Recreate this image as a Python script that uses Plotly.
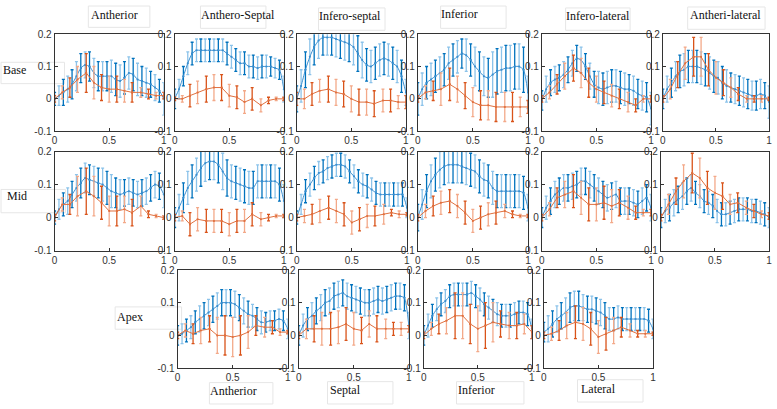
import plotly.graph_objects as go

W, H = 777, 409

BLUE_X = [0, 0.04, 0.08, 0.12, 0.16, 0.2, 0.24, 0.28, 0.32, 0.36, 0.4, 0.44, 0.48,
          0.52, 0.56, 0.6, 0.64, 0.68, 0.72, 0.76, 0.8, 0.84, 0.88, 0.92, 0.96, 1.0]
ORANGE_X = [0, 0.07, 0.14, 0.21, 0.29, 0.36, 0.43, 0.5, 0.57, 0.64, 0.71, 0.79, 0.86, 0.93, 1.0]

PANEL_NAMES = ["Base Antherior", "Base Anthero-Septal", "Base Infero-septal", "Base Inferior",
               "Base Infero-lateral", "Base Antheri-lateral",
               "Mid Antherior", "Mid Anthero-Septal", "Mid Infero-septal", "Mid Inferior",
               "Mid Infero-lateral", "Mid Antheri-lateral",
               "Apex Antherior", "Apex Septal", "Apex Inferior", "Apex Lateral"]

BLUE_Y = [
    [0.0,0.01,0.02,0.03,0.045,0.07,0.095,0.105,0.10,0.08,0.07,0.07,0.07,0.07,0.06,0.055,0.065,0.08,0.075,0.06,0.055,0.05,0.045,0.035,0.025,0.0],
    [0.0,0.03,0.07,0.11,0.14,0.15,0.15,0.15,0.15,0.15,0.15,0.15,0.14,0.13,0.12,0.11,0.11,0.10,0.10,0.095,0.10,0.10,0.10,0.095,0.09,0.03],
    [0.0,0.04,0.09,0.13,0.16,0.18,0.19,0.19,0.19,0.185,0.18,0.175,0.17,0.16,0.14,0.12,0.105,0.10,0.11,0.12,0.125,0.12,0.11,0.10,0.07,0.02],
    [0.0,0.03,0.05,0.06,0.07,0.08,0.09,0.11,0.12,0.13,0.14,0.135,0.12,0.10,0.085,0.07,0.065,0.075,0.085,0.09,0.095,0.095,0.10,0.10,0.09,0.02],
    [-0.005,0.03,0.05,0.06,0.065,0.075,0.09,0.11,0.125,0.12,0.10,0.07,0.045,0.035,0.03,0.035,0.04,0.04,0.035,0.03,0.03,0.025,0.015,0.01,0.005,-0.03],
    [0.0,0.03,0.05,0.07,0.085,0.09,0.10,0.10,0.10,0.095,0.09,0.08,0.07,0.065,0.05,0.04,0.035,0.03,0.025,0.02,0.015,0.01,0.01,0.015,0.01,-0.01],
    [0.0,0.025,0.04,0.05,0.07,0.09,0.105,0.12,0.115,0.11,0.105,0.10,0.09,0.08,0.075,0.07,0.075,0.08,0.075,0.07,0.075,0.08,0.09,0.10,0.095,0.07],
    [0.0,0.03,0.06,0.09,0.11,0.13,0.15,0.165,0.17,0.17,0.16,0.14,0.12,0.11,0.105,0.10,0.095,0.09,0.09,0.11,0.11,0.11,0.11,0.11,0.10,0.05],
    [0.0,0.04,0.08,0.10,0.12,0.135,0.14,0.15,0.155,0.16,0.16,0.155,0.14,0.125,0.11,0.10,0.095,0.085,0.075,0.07,0.07,0.07,0.07,0.07,0.07,0.03],
    [0.0,0.04,0.08,0.11,0.13,0.145,0.155,0.16,0.16,0.16,0.155,0.15,0.145,0.14,0.125,0.115,0.11,0.09,0.08,0.08,0.08,0.08,0.08,0.08,0.075,0.03],
    [0.0,0.03,0.05,0.07,0.08,0.09,0.09,0.095,0.10,0.11,0.11,0.10,0.09,0.08,0.07,0.06,0.065,0.07,0.05,0.05,0.05,0.045,0.04,0.05,0.06,0.03],
    [0.0,0.02,0.03,0.045,0.055,0.065,0.08,0.09,0.075,0.065,0.05,0.045,0.035,0.02,0.01,0.01,0.015,0.02,0.025,0.025,0.025,0.02,0.02,0.015,0.01,0.0],
    [0.0,0.005,0.015,0.025,0.04,0.05,0.06,0.07,0.08,0.09,0.10,0.10,0.10,0.095,0.085,0.075,0.065,0.06,0.05,0.04,0.04,0.045,0.045,0.05,0.045,0.02],
    [0.0,0.03,0.05,0.06,0.075,0.085,0.10,0.105,0.12,0.125,0.13,0.12,0.115,0.11,0.105,0.10,0.10,0.105,0.11,0.105,0.11,0.115,0.12,0.12,0.115,0.03],
    [0.0,0.03,0.06,0.08,0.095,0.105,0.12,0.125,0.125,0.125,0.125,0.13,0.12,0.11,0.095,0.085,0.075,0.065,0.06,0.06,0.06,0.065,0.07,0.07,0.065,0.02],
    [0.01,0.02,0.035,0.05,0.06,0.07,0.085,0.09,0.09,0.085,0.08,0.08,0.075,0.07,0.06,0.05,0.05,0.055,0.05,0.05,0.05,0.05,0.05,0.05,0.045,0.02],
]

BLUE_ERR = [
    [0.02,0.03,0.04,0.04,0.045,0.045,0.045,0.04,0.045,0.045,0.045,0.045,0.045,0.05,0.05,0.05,0.05,0.05,0.05,0.05,0.045,0.045,0.04,0.04,0.035,0.05],
    [0.03,0.03,0.03,0.035,0.035,0.035,0.035,0.035,0.035,0.035,0.035,0.035,0.035,0.035,0.035,0.035,0.035,0.035,0.035,0.035,0.035,0.035,0.03,0.03,0.03,0.04],
    [0.04,0.05,0.055,0.055,0.055,0.055,0.055,0.055,0.055,0.055,0.055,0.055,0.055,0.055,0.055,0.055,0.05,0.05,0.05,0.05,0.05,0.05,0.05,0.05,0.05,0.04],
    [0.05,0.05,0.05,0.05,0.05,0.05,0.05,0.05,0.05,0.05,0.045,0.05,0.05,0.06,0.06,0.06,0.06,0.07,0.07,0.07,0.07,0.07,0.07,0.07,0.07,0.05],
    [0.03,0.04,0.04,0.04,0.04,0.04,0.04,0.04,0.04,0.04,0.04,0.04,0.04,0.05,0.05,0.05,0.05,0.05,0.05,0.05,0.045,0.045,0.045,0.045,0.045,0.05],
    [0.03,0.04,0.045,0.045,0.05,0.05,0.05,0.05,0.05,0.05,0.05,0.05,0.05,0.05,0.05,0.05,0.045,0.045,0.045,0.045,0.045,0.045,0.045,0.045,0.04,0.05],
    [0.02,0.03,0.035,0.04,0.04,0.04,0.045,0.045,0.045,0.045,0.045,0.05,0.05,0.05,0.045,0.045,0.04,0.04,0.04,0.04,0.04,0.04,0.04,0.04,0.04,0.04],
    [0.03,0.04,0.045,0.05,0.05,0.05,0.055,0.055,0.055,0.055,0.055,0.055,0.055,0.05,0.05,0.05,0.05,0.05,0.05,0.05,0.05,0.05,0.05,0.05,0.05,0.05],
    [0.02,0.03,0.035,0.035,0.035,0.035,0.035,0.035,0.035,0.035,0.035,0.035,0.035,0.035,0.035,0.035,0.035,0.035,0.035,0.035,0.035,0.035,0.035,0.035,0.035,0.03],
    [0.04,0.045,0.05,0.05,0.05,0.055,0.055,0.055,0.055,0.055,0.05,0.05,0.05,0.05,0.05,0.05,0.05,0.05,0.05,0.05,0.05,0.05,0.05,0.05,0.05,0.04],
    [0.03,0.035,0.04,0.04,0.04,0.04,0.04,0.04,0.04,0.04,0.04,0.04,0.04,0.04,0.04,0.04,0.04,0.04,0.04,0.04,0.04,0.04,0.04,0.04,0.04,0.04],
    [0.03,0.035,0.04,0.04,0.04,0.04,0.04,0.04,0.035,0.035,0.035,0.035,0.035,0.035,0.035,0.035,0.035,0.035,0.035,0.035,0.035,0.035,0.035,0.035,0.035,0.03],
    [0.03,0.03,0.035,0.035,0.035,0.04,0.04,0.04,0.04,0.04,0.04,0.04,0.04,0.04,0.04,0.04,0.04,0.035,0.035,0.035,0.03,0.03,0.03,0.03,0.03,0.03],
    [0.03,0.035,0.035,0.04,0.04,0.04,0.04,0.04,0.04,0.04,0.04,0.04,0.04,0.04,0.04,0.04,0.04,0.04,0.04,0.04,0.04,0.04,0.04,0.04,0.04,0.04],
    [0.03,0.035,0.035,0.035,0.035,0.035,0.035,0.035,0.035,0.035,0.035,0.035,0.035,0.035,0.035,0.035,0.035,0.035,0.035,0.035,0.035,0.035,0.035,0.035,0.035,0.03],
    [0.03,0.04,0.04,0.04,0.04,0.045,0.045,0.045,0.045,0.04,0.04,0.04,0.04,0.04,0.04,0.035,0.035,0.035,0.035,0.035,0.035,0.035,0.035,0.035,0.035,0.03],
]

ORANGE_Y = [
    [0.0,0.02,0.035,0.06,0.08,0.05,0.035,0.03,0.03,0.025,0.02,0.02,0.015,0.01,0.01],
    [0.0,0.0,0.01,0.02,0.03,0.035,0.035,0.01,0.005,-0.01,0.0,-0.02,-0.005,0.0,0.0],
    [0.0,0.0,0.015,0.025,0.03,0.02,0.015,0.0,-0.01,-0.01,-0.015,-0.005,-0.005,-0.01,-0.01],
    [0.0,0.02,0.025,0.03,0.045,0.03,0.01,-0.01,-0.02,-0.02,-0.025,-0.025,-0.025,-0.025,-0.025],
    [0.0,0.02,0.045,0.07,0.095,0.08,0.05,0.03,0.02,0.01,0.0,-0.01,-0.02,0.0,0.0],
    [0.0,0.03,0.075,0.11,0.13,0.13,0.09,0.065,0.05,0.035,0.015,0.0,0.0,0.0,0.0],
    [0.0,0.04,0.04,0.065,0.08,0.065,0.045,0.02,0.02,0.025,0.015,0.035,0.01,0.005,0.0],
    [0.0,0.005,-0.02,-0.005,-0.01,-0.01,-0.01,-0.02,-0.01,-0.01,0.01,-0.005,0.0,0.005,0.005],
    [0.0,0.005,0.01,0.02,0.03,0.02,0.01,-0.015,-0.005,0.005,0.005,0.01,0.015,0.01,0.01],
    [0.0,0.02,0.035,0.045,0.05,0.035,0.015,-0.01,0.0,0.01,0.015,0.02,0.01,0.005,0.005],
    [0.0,0.025,0.06,0.07,0.08,0.06,0.04,0.04,0.045,0.035,0.045,0.03,0.015,0.015,0.015],
    [0.0,0.04,0.08,0.11,0.135,0.12,0.09,0.075,0.065,0.04,0.045,0.03,0.02,0.01,0.005],
    [0.0,0.015,0.005,0.015,0.02,0.0,0.0,-0.005,0.0,0.01,0.03,0.025,0.025,0.01,0.01],
    [0.0,0.02,0.02,0.02,0.02,0.025,0.035,0.02,0.015,0.035,0.02,0.02,0.02,0.02,0.02],
    [0.0,0.02,0.035,0.045,0.06,0.06,0.035,0.02,0.03,0.04,0.035,0.03,0.03,0.035,0.01],
    [0.0,0.005,0.015,0.03,0.04,0.035,0.02,-0.005,0.005,0.015,0.025,0.015,0.005,0.005,0.005],
]

ORANGE_ERR = [
    [0.01,0.02,0.03,0.04,0.06,0.05,0.04,0.04,0.04,0.035,0.03,0.015,0.015,0.01,0.01],
    [0.005,0.01,0.035,0.035,0.04,0.04,0.04,0.035,0.035,0.035,0.035,0.02,0.01,0.005,0.005],
    [0.02,0.03,0.035,0.035,0.04,0.04,0.04,0.04,0.04,0.04,0.04,0.035,0.035,0.02,0.02],
    [0.01,0.02,0.03,0.05,0.05,0.04,0.04,0.045,0.045,0.045,0.045,0.045,0.045,0.03,0.02],
    [0.01,0.02,0.03,0.04,0.04,0.045,0.045,0.04,0.035,0.035,0.03,0.03,0.02,0.01,0.01],
    [0.01,0.03,0.04,0.05,0.06,0.06,0.05,0.05,0.04,0.03,0.02,0.01,0.01,0.01,0.005],
    [0.01,0.02,0.03,0.06,0.07,0.06,0.05,0.045,0.045,0.04,0.04,0.03,0.01,0.005,0.005],
    [0.01,0.015,0.035,0.035,0.035,0.035,0.035,0.035,0.035,0.035,0.035,0.02,0.01,0.005,0.005],
    [0.01,0.02,0.03,0.035,0.035,0.035,0.035,0.035,0.035,0.035,0.03,0.03,0.01,0.01,0.005],
    [0.01,0.02,0.03,0.035,0.035,0.035,0.035,0.035,0.035,0.035,0.035,0.02,0.01,0.005,0.005],
    [0.01,0.02,0.03,0.04,0.05,0.05,0.05,0.05,0.05,0.05,0.04,0.035,0.02,0.01,0.01],
    [0.01,0.03,0.04,0.05,0.06,0.06,0.05,0.05,0.04,0.03,0.03,0.02,0.02,0.01,0.01],
    [0.01,0.02,0.03,0.04,0.04,0.055,0.06,0.06,0.06,0.05,0.03,0.03,0.02,0.01,0.005],
    [0.01,0.03,0.04,0.05,0.05,0.05,0.05,0.05,0.04,0.04,0.04,0.03,0.02,0.02,0.01],
    [0.01,0.02,0.03,0.04,0.07,0.07,0.06,0.07,0.07,0.06,0.04,0.04,0.04,0.03,0.02],
    [0.01,0.02,0.03,0.04,0.05,0.05,0.05,0.05,0.05,0.04,0.03,0.02,0.01,0.01,0.005],
]

COL_TITLES = ["Antherior", "Anthero-Septal", "Infero-septal", "Inferior", "Infero-lateral", "Antheri-lateral"]
ROW_TITLES = ["Base", "Mid", "Apex"]
APEX_TITLES = ["Antherior", "Septal", "Inferior", "Lateral"]

Y_TICKS = [-0.1, 0, 0.1, 0.2]
Y_TICKTEXT = ["-0.1", "0", "0.1", "0.2"]
X_TICKS = [0, 0.5, 1]
X_TICKTEXT = ["0", "0.5", "1"]

# panel boxes in pixels: (left, right, top, bottom)
PANEL_PX = [
    (52, 162, 29, 129), (173, 283, 29, 129), (296, 406, 29, 129),
    (418, 529, 29, 129), (543, 653, 29, 129), (665, 772, 29, 129),
    (52, 162, 150, 252), (173, 283, 150, 252), (296, 407, 150, 252),
    (418, 529, 150, 252), (543, 653, 150, 252), (663, 772, 150, 252),
    (176, 287, 272, 373), (298, 409, 272, 373), (424, 533, 272, 373),
    (545, 655, 272, 373),
]

BLUE_D, BLUE_L, BLUE_LINE = "#0072BD", "#8cc3ea", "#3b8fd0"
ORG_D, ORG_L, ORG_LINE = "#D95319", "#f3a989", "#e0703f"

fig = go.Figure()
layout = {}


def err_trace(xs, ys, es, color, ax):
    return go.Scatter(x=xs, y=ys, mode="markers",
                      marker=dict(size=2, color=color),
                      error_y=dict(type="data", array=es, visible=True,
                                   color=color, thickness=1.3, width=1.5),
                      xaxis="x" + ax, yaxis="y" + ax,
                      showlegend=False, hoverinfo="skip")


for i in range(16):
    ax = "" if i == 0 else str(i + 1)
    l, r, t, b = PANEL_PX[i]
    bx, by, be = BLUE_X, BLUE_Y[i], BLUE_ERR[i]
    ox, oy, oe = ORANGE_X, ORANGE_Y[i], ORANGE_ERR[i]
    # blue: alternating dark / light error bars
    fig.add_trace(err_trace(bx[1::2], by[1::2], be[1::2], BLUE_L, ax))
    fig.add_trace(err_trace(bx[0::2], by[0::2], be[0::2], BLUE_D, ax))
    fig.add_trace(go.Scatter(x=bx, y=by, mode="lines+markers",
                             line=dict(color=BLUE_LINE, width=1, shape="spline", smoothing=0.6),
                             marker=dict(size=2, color=BLUE_LINE),
                             xaxis="x" + ax, yaxis="y" + ax, showlegend=False))
    # orange
    fig.add_trace(err_trace(ox[1::2], oy[1::2], oe[1::2], ORG_L, ax))
    fig.add_trace(err_trace(ox[0::2], oy[0::2], oe[0::2], ORG_D, ax))
    fig.add_trace(go.Scatter(x=ox, y=oy, mode="lines+markers",
                             line=dict(color=ORG_LINE, width=1),
                             marker=dict(size=2, color=ORG_LINE),
                             xaxis="x" + ax, yaxis="y" + ax, showlegend=False))
    common = dict(showline=True, mirror=True, linecolor="#333333", linewidth=1,
                  ticks="inside", ticklen=3, tickcolor="#333333",
                  showgrid=False, zeroline=False, fixedrange=True,
                  ticklabeloverflow="allow",
                  tickfont=dict(family="Liberation Sans, Arial, sans-serif", size=10, color="#333333"))
    layout["xaxis" + ax] = dict(domain=[l / W, r / W], range=[0, 1],
                                tickvals=X_TICKS, ticktext=X_TICKTEXT,
                                anchor="y" + ax, **common)
    layout["yaxis" + ax] = dict(domain=[1 - b / H, 1 - t / H], range=[-0.1, 0.2],
                                tickvals=Y_TICKS, ticktext=Y_TICKTEXT,
                                anchor="x" + ax, **common)

SERIF = "Liberation Serif, DejaVu Serif, serif"
annotations = []
shapes = []


def label(text, cx, cy, box):
    annotations.append(dict(text=text, x=cx / W, y=1 - cy / H, xref="paper", yref="paper",
                            showarrow=False, xanchor="center", yanchor="middle",
                            font=dict(family=SERIF, size=12, color="#111111")))
    x0, x1, y0, y1 = box
    shapes.append(dict(type="rect", xref="paper", yref="paper",
                       x0=x0 / W, x1=x1 / W, y0=1 - y1 / H, y1=1 - y0 / H,
                       line=dict(color="#e6e6e6", width=1), layer="below"))


col_pos = [(112, 9, (86, 148, 0, 22)), (237, 9, (199, 265, 0, 23)),
           (350, 10, (318, 385, 2, 25)), (460, 8, (441, 507, 0, 23)),
           (600, 10, (567, 632, 2, 25)), (728, 9, (690, 768, 1, 24))]
for name, (cx, cy, box) in zip(COL_TITLES, col_pos):
    label(name, cx, cy, box)

row_pos = [(12, 66, (-2, 62, 58, 80)), (14, 196, (-2, 63, 189, 213)), (128, 320, (113, 180, 310, 333))]
for name, (cx, cy, box) in zip(ROW_TITLES, row_pos):
    label(name, cx, cy, box)

apex_pos = [(232, 397, (208, 272, 388, 410)), (345, 396, (327, 393, 387, 410)),
            (477, 396, (457, 525, 387, 410)), (600, 395, (579, 645, 385, 408))]
for name, (cx, cy, box) in zip(APEX_TITLES, apex_pos):
    label(name, cx, cy, box)

fig.update_layout(width=W, height=H, margin=dict(l=0, r=0, t=0, b=0),
                  paper_bgcolor="white", plot_bgcolor="white",
                  showlegend=False, annotations=annotations, shapes=shapes, **layout)

fig.write_html("out.html", config={"displayModeBar": False},
               post_script="document.body.style.margin='0';document.body.style.padding='0';document.body.style.overflow='hidden';")
